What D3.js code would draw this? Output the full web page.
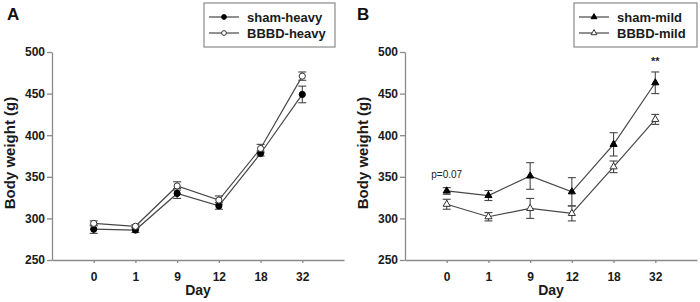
<!DOCTYPE html>
<html>
<head>
<meta charset="utf-8">
<script src="https://cdn.jsdelivr.net/npm/d3@7"></script>
<style>
  body { margin: 0; background: #fff; }
  svg { display: block; font-family: "Liberation Sans", Arial, sans-serif; }
  .axis path, .axis line { stroke: #8a8a8a; stroke-width: 1.3; }
  .axis text { font-size: 12px; font-weight: bold; fill: #1a1a1a; }
</style>
</head>
<body>
<svg id="chart" width="700" height="302"></svg>
<script>
// values
const days = ["0", "1", "9", "12", "18", "32"];
const yTicks = [250, 300, 350, 400, 450, 500];

const shamHeavy = [287, 286, 330, 315, 378, 449];
const shamHeavyErr = [5, 3, 6, 4, 3, 10];
const bbbdHeavy = [294, 290.5, 339, 322, 384, 471];
const bbbdHeavyErr = [3, 2, 5, 5, 5, 5];

const shamMild = [333, 327.5, 351, 332, 389, 463];
const shamMildErr = [4, 6, 16, 17, 14, 13];
const bbbdMild = [317, 302, 312, 306, 362, 419];
const bbbdMildErr = [6, 5, 12, 9, 7, 6];

const svg = d3.select("#chart");
const lineColor = "#474747";

// 1. panel definitions
const panels = [
    {
        letter: "A", left: 52, letterX: 7,
        legend: { x: 204, w: 131 },
        series: [
            { name: "sham-heavy", values: shamHeavy, err: shamHeavyErr, shape: "circle", filled: true },
            { name: "BBBD-heavy", values: bbbdHeavy, err: bbbdHeavyErr, shape: "circle", filled: false }
        ],
        notes: []
    },
    {
        letter: "B", left: 405, letterX: 357,
        legend: { x: 574, w: 123 },
        series: [
            { name: "sham-mild", values: shamMild, err: shamMildErr, shape: "triangle", filled: true },
            { name: "BBBD-mild", values: bbbdMild, err: bbbdMildErr, shape: "triangle", filled: false }
        ],
        notes: [
            { day: "0", value: 348, text: "p=0.07", size: 10, weight: "normal" },
            { day: "32", value: 484, text: "**", size: 11, weight: "bold" }
        ]
    }
];

const plotW = 292;
const plotTop = 52, plotBottom = 260;

function symbolPath(shape, small) {
    if (shape === "circle") return d3.symbol(d3.symbolCircle, small ? 18 : 30)();
    return d3.symbol(d3.symbolTriangle, small ? 15 : 22)();
}

panels.forEach(p => {
    const g = svg.append("g");

    // 2. scales
    const x = d3.scalePoint().domain(days).range([p.left, p.left + plotW]).padding(1);
    const y = d3.scaleLinear().domain([250, 500]).range([plotBottom, plotTop]);

    // 3. axes
    g.append("g")
        .attr("class", "axis")
        .attr("transform", `translate(${p.left},0)`)
        .call(d3.axisLeft(y).tickValues(yTicks).tickSize(5).tickSizeOuter(0).tickPadding(2));

    g.append("g")
        .attr("class", "axis")
        .attr("transform", `translate(0,${plotBottom})`)
        .call(d3.axisBottom(x).tickSize(3).tickSizeOuter(0).tickPadding(9));

    // axis titles
    g.append("text")
        .attr("transform", `translate(${p.left - 37.5},${(plotTop + plotBottom) / 2 - 3}) rotate(-90)`)
        .attr("text-anchor", "middle")
        .style("font-size", "15px").style("font-weight", "bold").style("fill", "#1a1a1a")
        .text("Body weight (g)");

    g.append("text")
        .attr("x", p.left + plotW / 2)
        .attr("y", 295)
        .attr("text-anchor", "middle")
        .style("font-size", "14px").style("font-weight", "bold").style("fill", "#1a1a1a")
        .text("Day");

    // panel letter
    g.append("text")
        .attr("x", p.letterX)
        .attr("y", 20)
        .style("font-size", "17px").style("font-weight", "bold").style("fill", "#111")
        .text(p.letter);

    // 4. series: lines, error bars, markers
    const line = d3.line().x((d, i) => x(days[i])).y(d => y(d));

    p.series.forEach(s => {
        g.append("path")
            .datum(s.values)
            .attr("d", line)
            .attr("fill", "none")
            .attr("stroke", lineColor)
            .attr("stroke-width", 1.2);

        const eb = g.append("g").selectAll("g")
            .data(s.values.map((v, i) => ({ day: days[i], v, e: s.err[i] })))
            .join("g")
            .attr("stroke", lineColor)
            .attr("stroke-width", 1.1);

        eb.append("line")
            .attr("x1", d => x(d.day)).attr("x2", d => x(d.day))
            .attr("y1", d => y(d.v - d.e)).attr("y2", d => y(d.v + d.e));
        eb.append("line")
            .attr("x1", d => x(d.day) - 4).attr("x2", d => x(d.day) + 4)
            .attr("y1", d => y(d.v + d.e)).attr("y2", d => y(d.v + d.e));
        eb.append("line")
            .attr("x1", d => x(d.day) - 4).attr("x2", d => x(d.day) + 4)
            .attr("y1", d => y(d.v - d.e)).attr("y2", d => y(d.v - d.e));
    });

    p.series.forEach(s => {
        g.append("g").selectAll("path")
            .data(s.values)
            .join("path")
            .attr("d", symbolPath(s.shape))
            .attr("transform", (d, i) => `translate(${x(days[i])},${y(d)})`)
            .attr("fill", s.filled ? "#000" : "#fff")
            .attr("stroke", s.filled ? "#000" : "#333")
            .attr("stroke-width", 1);
    });

    // annotations
    p.notes.forEach(n => {
        g.append("text")
            .attr("x", x(n.day))
            .attr("y", y(n.value))
            .attr("text-anchor", "middle")
            .style("font-size", n.size + "px").style("font-weight", n.weight).style("fill", "#222")
            .text(n.text);
    });

    // 5. legend
    const lg = g.append("g");
    lg.append("rect")
        .attr("x", p.legend.x).attr("y", 3)
        .attr("width", p.legend.w).attr("height", 44)
        .attr("fill", "#fff")
        .attr("stroke", "#8a8a8a").attr("stroke-width", 1.2);

    p.series.forEach((s, i) => {
        const ly = 17 + i * 16;
        const lx = p.legend.x + 5;
        lg.append("line")
            .attr("x1", lx).attr("x2", lx + 30)
            .attr("y1", ly).attr("y2", ly)
            .attr("stroke", lineColor).attr("stroke-width", 1.2);
        lg.append("path")
            .attr("d", symbolPath(s.shape, true))
            .attr("transform", `translate(${lx + 15},${ly})`)
            .attr("fill", s.filled ? "#000" : "#fff")
            .attr("stroke", s.filled ? "#000" : "#333");
        lg.append("text")
            .attr("x", lx + 38)
            .attr("y", ly + 4.5)
            .style("font-size", "13px").style("font-weight", "bold").style("fill", "#1a1a1a")
            .text(s.name);
    });
});
</script>
</body>
</html>
